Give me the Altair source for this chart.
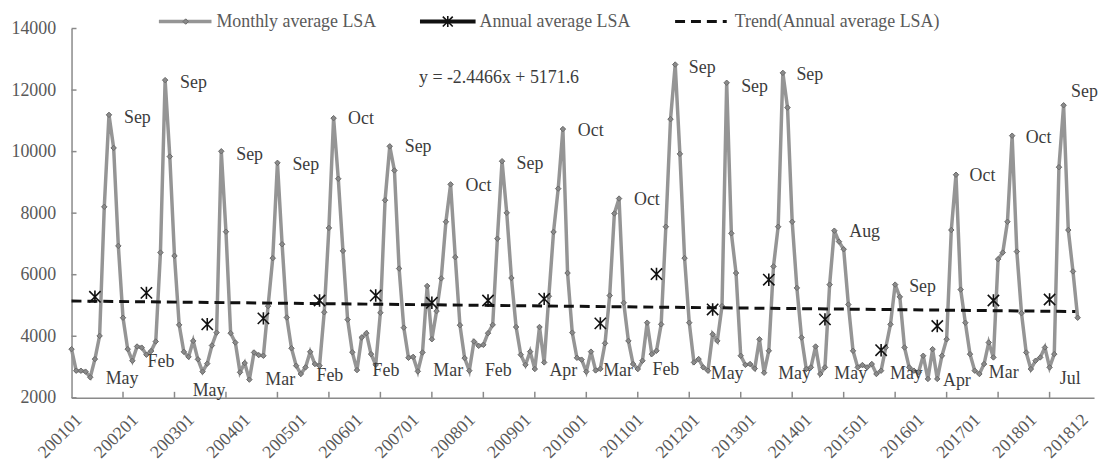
import altair as alt
import pandas as pd

FONT = "Liberation Serif"

# ---------------- data ----------------
y2001 = [3581, 2882, 2880, 2850, 2667, 3258, 4011, 8205, 11194, 10119, 6936, 4602]
y2002 = [3581, 3204, 3667, 3630, 3400, 3520, 3830, 6720, 12323, 9839, 6613, 4370]
y2003 = [3494, 3330, 3849, 3250, 2850, 3110, 3700, 4118, 10011, 7398, 4100, 3797]
y2004 = [2828, 3129, 2591, 3473, 3387, 3366, 4979, 6538, 9635, 6990, 4610, 3610]
y2005 = [3043, 2774, 2989, 3494, 3097, 3043, 4780, 7520, 11087, 9119, 6774, 4540]
y2006 = [3480, 2900, 3960, 4100, 3420, 3070, 4764, 8420, 10172, 9387, 6200, 4280]
y2007 = [3300, 3330, 2860, 3473, 5635, 3903, 4817, 5880, 7720, 8936, 6570, 4360]
y2008 = [3290, 2882, 3830, 3688, 3720, 4100, 4370, 7170, 9688, 8010, 5893, 4300]
y2009 = [3400, 3070, 3500, 2935, 4300, 3150, 5300, 7390, 8797, 10733, 6054, 4118]
y2010 = [3300, 3240, 2850, 3500, 2890, 2940, 3770, 5323, 7990, 8474, 5087, 3849]
y2011 = [3097, 2935, 3204, 4441, 3419, 3527, 4387, 7559, 11055, 12829, 9926, 6538]
y2012 = [4441, 3151, 3258, 2989, 2882, 4065, 3849, 4979, 12237, 7345, 6054, 3366]
y2013 = [3070, 3097, 2950, 3903, 2815, 3527, 6269, 7559, 12559, 11430, 7720, 5571]
y2014 = [3958, 2935, 2989, 3667, 2774, 2989, 5678, 7430, 7075, 6828, 5032, 3527]
y2015 = [2989, 3065, 2989, 3097, 2774, 2882, 3635, 4387, 5678, 5280, 3635, 2989]
y2016 = [2882, 2828, 3366, 2613, 3581, 2613, 3366, 3903, 7452, 9249, 5516, 4440]
y2017 = [3419, 2882, 2774, 3097, 3797, 3312, 6506, 6720, 7720, 10517, 6753, 4750]
y2018 = [3473, 2935, 3204, 3312, 3635, 2989, 3419, 9494, 11506, 7452, 6107, 4602]

monthly = (y2001 + y2002 + y2003 + y2004 + y2005 + y2006 + y2007 + y2008 + y2009
           + y2010 + y2011 + y2012 + y2013 + y2014 + y2015 + y2016 + y2017 + y2018)
month_index = list(range(len(monthly)))

annual_pos = [5, 16, 29, 41, 53, 65, 77, 89, 101, 113, 125, 137, 149, 161, 173, 185, 197, 209]
annual_val = [5281, 5410, 4387, 4581, 5161, 5323, 5086, 5161, 5215, 4419, 6022, 4871,
              5839, 4548, 3548, 4333, 5161, 5194]

x_label_pos = [0, 12, 24, 36, 48, 60, 72, 84, 96, 108, 120, 132, 144, 156, 168, 180, 192, 204, 215]
x_label_text = ["200101", "200201", "200301", "200401", "200501", "200601", "200701",
                "200801", "200901", "201001", "201101", "201201", "201301", "201401",
                "201501", "201601", "201701", "201801", "201812"]
x_tick_pos = [11, 22, 33, 44, 55, 66, 77, 88, 99, 110, 121, 132, 143, 154, 165, 176, 187, 198, 209]
y_tick_vals = [2000, 4000, 6000, 8000, 10000, 12000, 14000]

peak_text = ["Sep", "Sep", "Sep", "Sep", "Oct", "Sep", "Oct", "Sep", "Oct", "Oct",
             "Sep", "Sep", "Sep", "Aug", "Sep", "Oct", "Oct", "Sep"]
peak_label_i = [11.2, 23.2, 35.2, 47.2, 59.1, 71.2, 84.2, 95.1, 108.2, 120.2,
                131.9, 143.1, 154.9, 166.2, 179.0, 191.9, 203.9, 213.6]
peak_label_v = [11106, 12235, 9903, 9548, 11055, 10139, 8871, 9600, 10655, 8439,
                12719, 12097, 12484, 7397, 5603, 9194, 10429, 11945]

trough_text = ["May", "Feb", "May", "Mar", "Feb", "Feb", "Mar", "Feb", "Apr", "Mar",
               "Feb", "May", "May", "May", "May", "Apr", "Mar", "Jul"]
trough_label_i = [10.8, 19.1, 29.4, 44.6, 55.2, 67.2, 80.5, 91.2, 105.1, 116.8,
                  127.0, 140.1, 154.5, 166.5, 178.4, 189.2, 199.2, 213.4]
trough_label_v = [2613, 3177, 2235, 2587, 2710, 2855, 2855, 2855, 2855, 2855,
                  2903, 2774, 2774, 2774, 2774, 2532, 2806, 2613]

equation = "y = -2.4466x  + 5171.6"
legend_names = ["Monthly average LSA", "Annual average LSA", "Trend(Annual average LSA)"]

# ---------------- frames ----------------
df_month = pd.DataFrame({"i": month_index, "v": monthly})
df_year = pd.DataFrame({"i": annual_pos, "v": annual_val})
df_peak = pd.DataFrame({"i": peak_label_i, "v": peak_label_v, "t": peak_text})
df_trough = pd.DataFrame({"i": trough_label_i, "v": trough_label_v, "t": trough_text})
df_xt = pd.DataFrame({"i": x_tick_pos})
df_yt = pd.DataFrame({"v": y_tick_vals})
one = pd.DataFrame({"k": [0]})

W, H = 1030, 372
AXIS_COLOR = "#8a8a8a"
LABEL_COLOR = "#595959"
TEXT_COLOR = "#3c3c3c"
LINE_COLOR = "#959595"
FS = 18

xs = alt.Scale(domain=[0, 218.5], nice=False, zero=False)
ys = alt.Scale(domain=[2000, 14000], nice=False, zero=False)

label_arr = "[" + ",".join("'%s'" % t for t in x_label_text[:-1]) + "]"
label_expr = ("datum.value == %d ? '%s' : %s[round(datum.value/12)]"
              % (x_label_pos[-1], x_label_text[-1], label_arr))

xaxis = alt.Axis(values=x_label_pos, labelExpr=label_expr, labelAngle=-45,
                 labelAlign="right", labelBaseline="top", labelPadding=13,
                 labelOffset=1, ticks=False, tickSize=0, grid=False,
                 labelFlush=False, labelOverlap=False, title=None)
yaxis = alt.Axis(values=y_tick_vals, format="d", ticks=False, tickSize=0,
                 labelPadding=16, grid=False, labelFlush=False, title=None)

X = alt.X("i:Q", scale=xs, axis=xaxis)
Y = alt.Y("v:Q", scale=ys, axis=yaxis)

line = alt.Chart(df_month).mark_line(color=LINE_COLOR, strokeWidth=3.5).encode(x=X, y=Y)
pts = alt.Chart(df_month).mark_point(shape="diamond", filled=True, fill="#8a8a8a",
                                     stroke="#6a6a6a", strokeWidth=1, size=30,
                                     opacity=1).encode(x=X, y=Y)

trend = (alt.Chart(df_year)
         .transform_regression("i", "v", extent=[0, 214.5])
         .mark_line(color="#111111", strokeWidth=3, strokeDash=[10, 6])
         .encode(x=X, y=Y))

star = "M-1,-1L1,1M1,-1L-1,1M0,-1.1L0,1.1"
annual = alt.Chart(df_year).mark_point(shape=star, filled=False, stroke="#111111",
                                       strokeWidth=1.6, size=130, opacity=1).encode(x=X, y=Y)

peak_lbl = alt.Chart(df_peak).mark_text(align="left", baseline="middle", font=FONT,
                                        fontSize=FS, color=TEXT_COLOR).encode(x=X, y=Y, text="t:N")
trough_lbl = alt.Chart(df_trough).mark_text(align="center", baseline="middle", font=FONT,
                                            fontSize=FS, color=TEXT_COLOR).encode(x=X, y=Y, text="t:N")

xticks = alt.Chart(df_xt).mark_rule(color=AXIS_COLOR, strokeWidth=1.5).encode(
    x=X, y=alt.value(H - 6), y2=alt.value(H))
yticks = alt.Chart(df_yt).mark_rule(color=AXIS_COLOR, strokeWidth=1.5).encode(
    y=Y, x=alt.value(0), x2=alt.value(5))

eq = alt.Chart(one).mark_text(align="left", baseline="middle", font=FONT, fontSize=FS,
                              color=TEXT_COLOR).encode(
    x=alt.value(350), y=alt.value(50), text=alt.value(equation))

# legend (drawn manually above the plot area)
LY = -7
leg = []
leg.append(alt.Chart(one).mark_rule(color=LINE_COLOR, strokeWidth=3.5).encode(
    x=alt.value(88), x2=alt.value(141), y=alt.value(LY)))
leg.append(alt.Chart(one).mark_point(shape="diamond", filled=True, fill="#8a8a8a",
                                     stroke="#6a6a6a", strokeWidth=1, size=30, opacity=1).encode(
    x=alt.value(115), y=alt.value(LY)))
leg.append(alt.Chart(one).mark_text(align="left", baseline="middle", font=FONT, fontSize=FS,
                                    color=LABEL_COLOR).encode(
    x=alt.value(146), y=alt.value(LY), text=alt.value(legend_names[0])))
leg.append(alt.Chart(one).mark_rule(color="#111111", strokeWidth=4).encode(
    x=alt.value(351), x2=alt.value(407), y=alt.value(LY)))
leg.append(alt.Chart(one).mark_point(shape=star, filled=False, stroke="#111111",
                                     strokeWidth=1.6, size=100, opacity=1).encode(
    x=alt.value(379), y=alt.value(LY)))
leg.append(alt.Chart(one).mark_text(align="left", baseline="middle", font=FONT, fontSize=FS,
                                    color=LABEL_COLOR).encode(
    x=alt.value(411), y=alt.value(LY), text=alt.value(legend_names[1])))
leg.append(alt.Chart(one).mark_rule(color="#111111", strokeWidth=3, strokeDash=[10, 6]).encode(
    x=alt.value(608), x2=alt.value(660), y=alt.value(LY)))
leg.append(alt.Chart(one).mark_text(align="left", baseline="middle", font=FONT, fontSize=FS,
                                    color=LABEL_COLOR).encode(
    x=alt.value(668), y=alt.value(LY), text=alt.value(legend_names[2])))

chart = alt.layer(line, pts, trend, annual, peak_lbl, trough_lbl, xticks, yticks, eq, *leg).properties(
    width=W, height=H,
    autosize=alt.AutoSizeParams(type="none"),
    padding={"left": 64, "top": 19, "right": 5, "bottom": 62},
    background="white",
).configure_view(stroke=None).configure_axis(
    domainColor=AXIS_COLOR, domainWidth=1.5, labelFont=FONT, labelFontSize=FS,
    labelColor=LABEL_COLOR,
)

chart.save("out.html", embed_options={"renderer": "svg", "actions": False})
